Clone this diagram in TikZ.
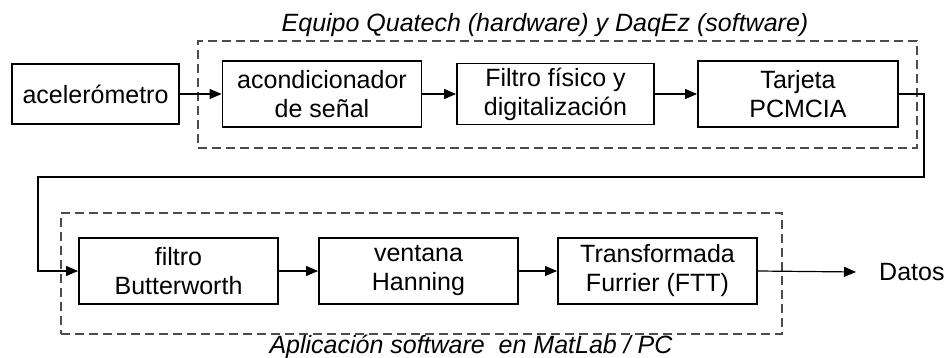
\documentclass[tikz,border=0pt]{standalone}
\usepackage{fontspec}
\setmainfont{Liberation Sans}
\usetikzlibrary{arrows.meta}
\begin{document}
\begin{tikzpicture}[x=1pt,y=-1pt,
  blk/.style={draw=black,line width=1.9pt,inner sep=0pt,align=center,
    font=\fontsize{25}{29}\selectfont},
  grp/.style={draw=black!70,line width=1.4pt,dash pattern=on 9pt off 5pt,inner sep=0pt},
  lbl/.style={font=\fontsize{25}{29}\selectfont\itshape,inner sep=0pt},
  conn/.style={line width=1.2pt,-{Triangle[length=12pt,width=10pt]}},
  wire/.style={line width=1.2pt}]
\useasboundingbox (0,0) rectangle (946,358);
% groups
\node[grp,minimum width=719pt,minimum height=107pt] (g1) at (557.5,94.5) {};
\node[grp,minimum width=721pt,minimum height=121pt] (g2) at (421.5,273.5) {};
\node[lbl,anchor=base] (t1) at (545,32) {Equipo Quatech (hardware) y DaqEz (software)};
\node[lbl,anchor=base] (t2) at (471,354) {Aplicación software\ \ en MatLab / PC};
% top row
\node[blk,minimum width=167pt,minimum height=60pt] (acel) at (95.5,94) {acelerómetro};
\node[blk,minimum width=199pt,minimum height=66pt] (acond) at (322,94) {acondicionador\\de señal};
\node[blk,minimum width=197pt,minimum height=61pt] (filt) at (555.5,94) {Filtro físico y\\digitalización};
\node[blk,minimum width=200pt,minimum height=66pt] (tarj) at (798,94) {Tarjeta\\PCMCIA};
% bottom row
\node[blk,minimum width=199pt,minimum height=66pt] (butt) at (178.5,271) {filtro\\Butterworth};
\node[blk,minimum width=199pt,minimum height=66pt] (hann) at (418.5,271) {ventana\\Hanning};
\node[blk,minimum width=199pt,minimum height=66pt] (fft) at (657.5,271) {Transformada\\Furrier (FTT)};
\node[font=\fontsize{25}{29}\selectfont,inner sep=0pt,anchor=west] (datos) at (879,272) {Datos};
% connectors
\draw[conn] (acel.east) -- (acond.west);
\draw[conn] (acond.east) -- (filt.west);
\draw[conn] (filt.east) -- (tarj.west);
\coordinate (c1) at (924,94);
\coordinate (c2) at (924,177);
\coordinate (c3) at (38,177);
\coordinate (c4) at (38,271);
\draw[conn] (tarj.east) -- (c1) -- (c2) -- (c3) -- (c4) -- (butt.west);
\draw[conn] (butt.east) -- (hann.west);
\draw[conn] (hann.east) -- (fft.west);
\draw[conn] (fft.east) -- ([xshift=-23pt]datos.west);
\end{tikzpicture}
\end{document}
